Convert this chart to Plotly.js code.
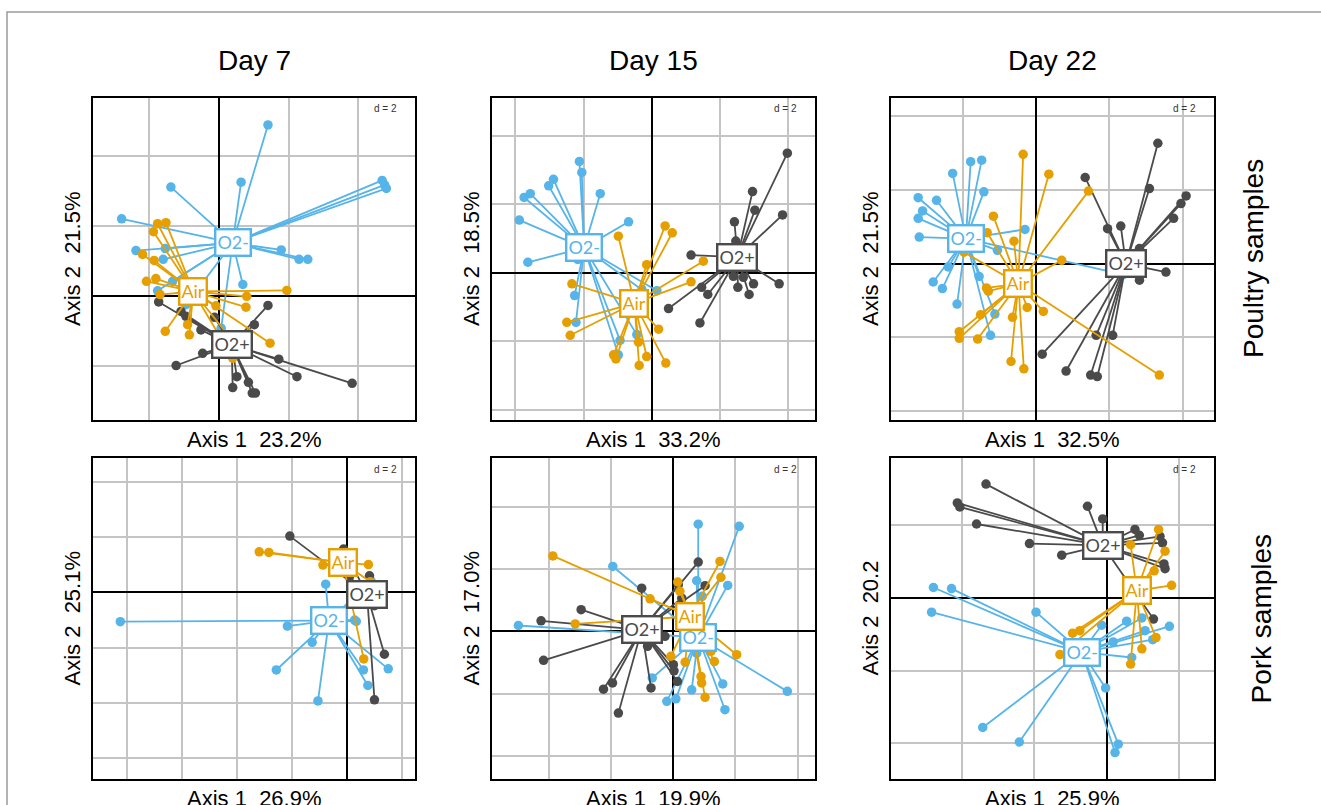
<!DOCTYPE html>
<html><head><meta charset="utf-8">
<script src="https://cdn.plot.ly/plotly-3.0.1.min.js"></script>
<style>html,body{margin:0;padding:0;background:#fff}#plot{width:1321px;height:805px}</style>
</head><body><div id="plot"></div>
<script>
// ---------- Column / row labels ----------
const dayLabels = ['Day 7', 'Day 15', 'Day 22'];
const rowLabels = ['Poultry samples', 'Pork samples'];
const axis1Labels = ['Axis 1\u00a0 23.2%', 'Axis 1\u00a0 33.2%', 'Axis 1\u00a0 32.5%', 'Axis 1\u00a0 26.9%', 'Axis 1\u00a0 19.9%', 'Axis 1\u00a0 25.9%'];
const axis2Labels = ['Axis 2\u00a0 21.5%', 'Axis 2\u00a0 18.5%', 'Axis 2\u00a0 21.5%', 'Axis 2\u00a0 25.1%', 'Axis 2\u00a0 17.0%', 'Axis 2\u00a0 20.2'];
const groupNames = ['O2-', 'O2+', 'Air'];

// ---------- Panel 1: Day 7 poultry ----------
const p1_o2m_x = [1.41,0.64,-1.37,4.68,4.75,4.80,-2.78,-2.37,-1.53,-1.59,1.79,2.30,2.55,0.69,-1.32,-1.75,-0.94,0.07];
const p1_o2m_y = [4.89,3.25,3.11,3.30,3.17,3.07,2.20,1.29,1.35,1.04,1.31,1.04,1.04,0.32,0.41,0.14,-0.26,-0.93];
const p1_o2p_x = [-1.72,-1.08,-0.94,-0.51,-0.12,1.41,1.02,-0.46,-1.22,1.72,2.24,3.82,0.52,0.40,0.85,0.96,1.05];
const p1_o2p_y = [-0.18,-0.45,-0.59,-0.98,-0.62,-0.28,-0.83,-1.65,-2.00,-1.82,-2.32,-2.51,-2.32,-2.63,-2.48,-2.79,-2.79];
const p1_air_x = [-1.75,-1.51,-1.87,-2.18,-1.85,-2.07,-1.80,-1.68,1.95,0.80,0.78,-0.08,-0.89,-1.53,-0.84,0.26,1.47,0.40];
const p1_air_y = [2.06,2.09,1.83,1.18,1.01,0.41,0.49,0.03,0.15,-0.02,-0.33,-0.29,-0.83,-1.02,-1.12,-1.12,-1.36,-1.79];
const p1_centroid_x = [0.40, 0.37, -0.73];
const p1_centroid_y = [1.51, -1.41, 0.12];
const p1_range_x = [-3.60, 5.62], p1_range_y = [-3.56, 5.66];

// ---------- Panel 2: Day 15 poultry ----------
const p2_o2m_x = [-2.12,-2.05,-2.88,-3.02,-3.56,-3.74,-1.51,-3.88,-0.68,-3.63,-2.17,-0.29,0.15,-2.26,-2.22,-0.93,-0.44,-0.98];
const p2_o2m_y = [3.25,2.93,2.73,2.54,2.31,2.20,2.31,1.54,1.49,0.31,0.39,-0.49,-0.52,-0.66,-1.44,-1.97,-1.80,-2.39];
const p2_o2p_x = [3.97,2.95,3.02,3.83,2.42,2.46,1.15,3.73,2.52,2.98,2.85,2.39,1.46,1.64,0.49,1.41,2.68];
const p2_o2p_y = [3.49,2.37,1.83,1.69,1.49,0.93,0.52,-0.32,-0.42,-0.32,-0.63,-0.10,-0.42,-0.63,-1.04,-1.46,-0.13];
const p2_air_x = [-0.98,0.39,0.60,-0.15,1.51,1.15,-2.34,-2.49,-2.39,0.20,-0.39,-1.12,-1.05,-0.37,-0.15,0.41];
const p2_air_y = [1.07,1.37,1.17,0.24,0.34,-0.26,-0.32,-1.44,-1.82,-1.64,-2.02,-2.39,-2.51,-2.70,-2.44,-2.63];
const p2_centroid_x = [-1.98, 2.51, -0.51];
const p2_centroid_y = [0.73, 0.46, -0.88];
const p2_range_x = [-4.68, 4.78], p2_range_y = [-4.29, 5.10];

// ---------- Panel 3: Day 22 poultry ----------
const p3_o2m_x = [-1.78,-1.48,-2.27,-1.42,-3.21,-2.71,-3.09,-3.21,-3.18,-0.30,-1.05,-2.39,-1.55,-2.80,-2.55,-2.15,-1.12,-1.24,2.38];
const p3_o2m_y = [2.77,2.81,2.45,1.95,1.79,1.72,1.43,1.23,0.72,0.93,0.36,-0.09,-0.35,-0.50,-0.68,-1.10,-1.37,-1.95,-0.30];
const p3_o2p_x = [3.32,1.34,3.09,4.09,3.95,3.75,1.95,2.31,2.82,3.54,2.82,1.64,2.09,0.17,0.82,1.49,1.67];
const p3_o2p_y = [3.27,2.34,2.04,1.84,1.63,1.23,0.95,1.02,0.41,-0.23,-0.45,-1.95,-1.95,-2.46,-2.92,-3.03,-3.07];
const p3_air_x = [-0.35,0.35,1.43,-1.16,-0.60,-1.33,-1.96,0.70,-1.35,-1.30,-1.51,-2.09,-2.09,-1.59,-0.64,-0.24,0.20,-0.68,-0.33,3.36];
const p3_air_y = [2.97,2.43,1.97,1.29,0.61,0.84,0.31,0.09,-0.66,-0.75,-1.39,-1.85,-2.03,-2.05,-1.46,-1.19,-1.30,-2.66,-2.86,-3.03];
const p3_centroid_x = [-1.91, 2.45, -0.48];
const p3_centroid_y = [0.68, -0.01, -0.55];
const p3_range_x = [-3.95, 4.85], p3_range_y = [-4.25, 4.50];

// ---------- Panel 4: Day 7 pork ----------
const p4_o2m_x = [-8.23,-2.17,-0.78,0.87,-1.27,-2.57,-1.06,0.59,0.75,1.49,0.27,0.33];
const p4_o2m_y = [-1.06,-1.22,0.30,0.41,-1.81,-2.81,-3.93,-2.81,-3.37,-2.77,-1.00,-1.05];
const p4_o2p_x = [-2.08,-0.13,0.81,0.99,1.35,0.99,0.08];
const p4_o2p_y = [2.04,1.57,0.60,-0.48,-2.24,-3.89,0.57];
const p4_air_x = [-3.19,-2.84,-0.88,0.77,0.60,0.84];
const p4_air_y = [1.47,1.45,0.99,1.01,-2.41,0.39];
const p4_centroid_x = [-0.66, 0.72, -0.16];
const p4_centroid_y = [-1.02, -0.07, 1.08];
const p4_range_x = [-9.22, 2.46], p4_range_y = [-6.76, 4.87];

// ---------- Panel 5: Day 15 pork ----------
const p5_o2m_x = [0.80,2.12,-1.95,0.75,1.75,0.93,-4.99,-0.68,-0.21,0.08,0.59,1.59,1.66,3.67,0.75];
const p5_o2m_y = [3.45,3.38,2.09,1.63,1.48,1.13,0.19,-1.50,-2.25,-2.17,-1.88,-1.69,-2.52,-1.93,-0.70];
const p5_o2p_x = [0.80,1.02,-1.02,0.16,0.27,-2.97,-4.26,-4.18,-2.25,-1.96,-0.72,-1.77,0.00,0.02,0.13,-0.27,-0.83];
const p5_o2p_y = [2.23,1.47,1.39,1.50,1.07,0.70,0.34,-0.93,-1.86,-1.66,-1.82,-2.63,-1.07,-1.27,-1.61,-0.16,-0.48];
const p5_air_x = [-3.88,-3.16,-0.75,0.14,0.21,1.50,1.53,2.04,0.38,-0.08,1.32,0.89,0.91,1.02,1.21];
const p5_air_y = [2.43,0.24,1.05,1.59,1.29,2.25,1.74,-0.75,-0.99,-0.80,-0.97,-1.45,-1.66,-2.12,-0.64];
const p5_centroid_x = [0.80, -1.02, 0.54];
const p5_centroid_y = [-0.19, 0.05, 0.48];
const p5_range_x = [-5.84, 4.56], p5_range_y = [-4.75, 5.58];

// ---------- Panel 6: Day 22 pork ----------
const p6_o2m_x = [-4.78,-4.28,-4.83,-1.95,-0.14,0.55,0.97,1.06,1.73,1.27,0.18,0.69,-0.03,-3.42,-2.41,0.32,0.23];
const p6_o2m_y = [0.29,0.26,-0.39,-0.39,-0.75,-0.64,-0.55,-0.90,-0.78,-1.15,-1.21,-1.64,-2.48,-3.57,-3.97,-4.03,-4.26];
const p6_o2p_x = [-3.33,-4.12,-4.05,-3.59,-2.13,-1.24,-0.53,-0.11,0.78,0.90,1.47,1.54,1.58,1.61,1.29];
const p6_o2p_y = [3.14,2.62,2.51,2.04,1.50,1.18,2.53,2.18,1.89,1.73,1.70,1.52,0.94,0.81,-0.58];
const p6_air_x = [1.43,0.66,1.61,1.31,1.79,-0.94,-0.74,-1.29,0.97,1.36,0.66];
const p6_air_y = [1.89,1.47,1.29,0.75,0.35,-0.97,-0.90,-1.56,-1.40,-1.09,-1.82];
const p6_centroid_x = [-0.69, -0.11, 0.83];
const p6_centroid_y = [-1.49, 1.45, 0.20];
const p6_range_x = [-5.95, 2.96], p6_range_y = [-4.99, 3.86];

// ---------- Styling / layout ----------
const W = 1321, H = 805;
const groupColors = ['#56B4E9', '#4a4a4a', '#E69F00'];
const colLeftPx = [93, 492, 891], colRightPx = [415, 815, 1214];
const rowTopPx = [98, 458], rowBottomPx = [420, 779];
const FONT = 'Liberation Sans, Arial, sans-serif';

const panels = [
  {g: [[p1_o2m_x,p1_o2m_y],[p1_o2p_x,p1_o2p_y],[p1_air_x,p1_air_y]], cx: p1_centroid_x, cy: p1_centroid_y, rx: p1_range_x, ry: p1_range_y},
  {g: [[p2_o2m_x,p2_o2m_y],[p2_o2p_x,p2_o2p_y],[p2_air_x,p2_air_y]], cx: p2_centroid_x, cy: p2_centroid_y, rx: p2_range_x, ry: p2_range_y},
  {g: [[p3_o2m_x,p3_o2m_y],[p3_o2p_x,p3_o2p_y],[p3_air_x,p3_air_y]], cx: p3_centroid_x, cy: p3_centroid_y, rx: p3_range_x, ry: p3_range_y},
  {g: [[p4_o2m_x,p4_o2m_y],[p4_o2p_x,p4_o2p_y],[p4_air_x,p4_air_y]], cx: p4_centroid_x, cy: p4_centroid_y, rx: p4_range_x, ry: p4_range_y},
  {g: [[p5_o2m_x,p5_o2m_y],[p5_o2p_x,p5_o2p_y],[p5_air_x,p5_air_y]], cx: p5_centroid_x, cy: p5_centroid_y, rx: p5_range_x, ry: p5_range_y},
  {g: [[p6_o2m_x,p6_o2m_y],[p6_o2p_x,p6_o2p_y],[p6_air_x,p6_air_y]], cx: p6_centroid_x, cy: p6_centroid_y, rx: p6_range_x, ry: p6_range_y}
];

const traces = [];
const annotations = [];
const layout = {
  width: W, height: H,
  margin: {l: 0, r: 0, t: 0, b: 0},
  paper_bgcolor: '#ffffff', plot_bgcolor: '#ffffff',
  showlegend: false,
  font: {family: FONT, color: '#000'},
  shapes: [{type: 'rect', xref: 'paper', yref: 'paper',
            x0: 7 / W, x1: 1.05, y0: -0.05, y1: 1 - 12 / H,
            line: {color: '#9a9a9a', width: 1.5}, fillcolor: 'rgba(0,0,0,0)', layer: 'below'}]
};

panels.forEach((p, i) => {
  const col = i % 3, row = Math.floor(i / 3);
  const n = i + 1;
  const xa = n === 1 ? 'x' : 'x' + n, ya = n === 1 ? 'y' : 'y' + n;
  const axBase = {
    dtick: 2, tick0: 0, showgrid: true, gridcolor: '#c4c4c4', gridwidth: 2,
    zeroline: true, zerolinecolor: '#000', zerolinewidth: 2,
    showline: true, mirror: true, linecolor: '#000', linewidth: 2,
    ticks: '', showticklabels: false, fixedrange: true
  };
  layout['xaxis' + (n === 1 ? '' : n)] = Object.assign({}, axBase, {
    domain: [colLeftPx[col] / W, colRightPx[col] / W], range: p.rx, anchor: ya
  });
  layout['yaxis' + (n === 1 ? '' : n)] = Object.assign({}, axBase, {
    domain: [1 - rowBottomPx[row] / H, 1 - rowTopPx[row] / H], range: p.ry, anchor: xa
  });

  p.g.forEach((grp, k) => {
    const xs = grp[0], ys = grp[1];
    const lx = [], ly = [];
    xs.forEach((v, j) => { lx.push(p.cx[k], v, null); ly.push(p.cy[k], ys[j], null); });
    traces.push({type: 'scatter', mode: 'lines', x: lx, y: ly, xaxis: xa, yaxis: ya,
      line: {color: groupColors[k], width: 1.8}, hoverinfo: 'skip', cliponaxis: true});
    traces.push({type: 'scatter', mode: 'markers', x: xs, y: ys, xaxis: xa, yaxis: ya,
      marker: {color: groupColors[k], size: 9.5}, hoverinfo: 'skip', cliponaxis: true});
  });
  // centroid labels
  groupNames.forEach((name, k) => {
    annotations.push({xref: xa, yref: ya, x: p.cx[k], y: p.cy[k], text: name, showarrow: false,
      xanchor: 'center', yanchor: 'middle',
      font: {family: 'Lato, Open Sans, sans-serif', size: 18, color: groupColors[k]},
      bgcolor: '#ffffff', bordercolor: groupColors[k], borderwidth: 2.4, borderpad: 1});
  });
  // d = 2
  annotations.push({xref: xa + ' domain', yref: ya + ' domain', x: 1, y: 1, xshift: -16, yshift: -11,
    xanchor: 'right', yanchor: 'middle', text: 'd = 2', showarrow: false,
    font: {family: FONT, size: 10, color: '#333'}});
  // axis 1 label
  annotations.push({xref: xa + ' domain', yref: ya + ' domain', x: 0.5, y: 0, yshift: -19,
    xanchor: 'center', yanchor: 'middle', text: axis1Labels[i], showarrow: false,
    font: {family: FONT, size: 22, color: '#000'}});
  // axis 2 label
  annotations.push({xref: xa + ' domain', yref: ya + ' domain', x: 0, y: 0.5, xshift: -21,
    xanchor: 'center', yanchor: 'middle', textangle: -90, text: axis2Labels[i], showarrow: false,
    font: {family: FONT, size: 22, color: '#000'}});
  // day titles
  if (row === 0) {
    annotations.push({xref: xa + ' domain', yref: ya + ' domain', x: 0.5, y: 1, yshift: 37,
      xanchor: 'center', yanchor: 'middle', text: dayLabels[col], showarrow: false,
      font: {family: FONT, size: 28, color: '#000'}});
  }
  // row labels
  if (col === 2) {
    annotations.push({xref: xa + ' domain', yref: ya + ' domain', x: 1, y: 0.5, xshift: row === 0 ? 39 : 47,
      xanchor: 'center', yanchor: 'middle', textangle: -90, text: rowLabels[row], showarrow: false,
      font: {family: FONT, size: 28, color: '#000'}});
  }
});
layout.annotations = annotations;

Plotly.newPlot('plot', traces, layout, {staticPlot: true, displayModeBar: false});
</script>
</body></html>
